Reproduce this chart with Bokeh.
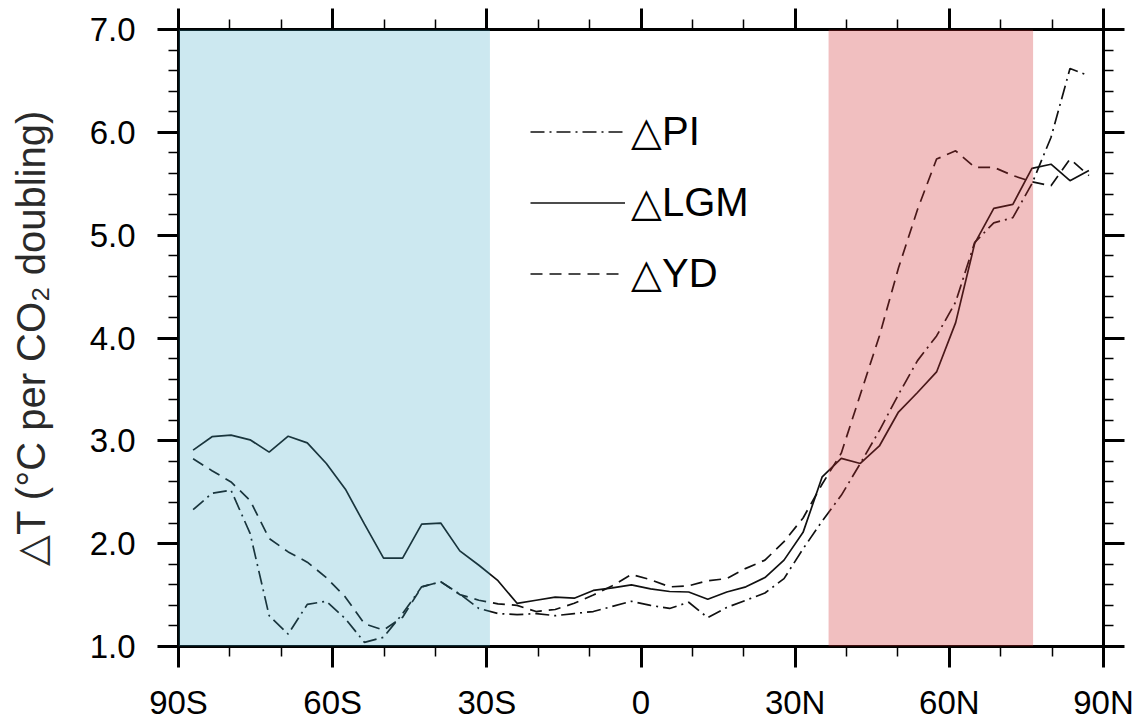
from bokeh.plotting import figure
from bokeh.models import (Range1d, LinearAxis, FixedTicker, BoxAnnotation, Legend,
                          LegendItem, NumeralTickFormatter)
from bokeh.embed import file_html
from bokeh.resources import INLINE

# ---- data ----
lat = [-87.16, -83.48, -79.78, -76.07, -72.36, -68.65, -64.94, -61.23, -57.52, -53.81,
       -50.10, -46.39, -42.68, -38.97, -35.26, -31.54, -27.83, -24.12, -20.41, -16.70,
       -12.99, -9.28, -5.57, -1.86, 1.86, 5.57, 9.28, 12.99, 16.70, 20.41,
       24.12, 27.83, 31.54, 35.26, 38.97, 42.68, 46.39, 50.10, 53.81, 57.52,
       61.23, 64.94, 68.65, 72.36, 76.07, 79.78, 83.48, 87.16]

dT_PI = [2.33, 2.49, 2.52, 2.10, 1.30, 1.12, 1.41, 1.44, 1.27, 1.04,
         1.09, 1.32, 1.58, 1.63, 1.51, 1.37, 1.32, 1.31, 1.32, 1.30,
         1.32, 1.34, 1.39, 1.44, 1.40, 1.37, 1.43, 1.28, 1.38, 1.45,
         1.52, 1.66, 1.95, 2.22, 2.47, 2.78, 3.10, 3.45, 3.78, 4.02,
         4.35, 4.93, 5.12, 5.17, 5.50, 5.95, 6.62, 6.55]

dT_LGM = [2.91, 3.04, 3.055, 3.01, 2.89, 3.045, 2.98, 2.78, 2.53, 2.19,
          1.86, 1.86, 2.19, 2.20, 1.93, 1.79, 1.64, 1.42, 1.45, 1.48,
          1.47, 1.545, 1.57, 1.60, 1.56, 1.535, 1.53, 1.46, 1.53, 1.58,
          1.67, 1.84, 2.11, 2.65, 2.83, 2.78, 2.95, 3.28, 3.47, 3.67,
          4.15, 4.92, 5.26, 5.30, 5.65, 5.69, 5.53, 5.63]

dT_YD = [2.825, 2.71, 2.60, 2.42, 2.05, 1.92, 1.82, 1.67, 1.48, 1.22,
         1.16, 1.285, 1.58, 1.63, 1.505, 1.45, 1.415, 1.40, 1.34, 1.36,
         1.42, 1.50, 1.59, 1.70, 1.65, 1.58, 1.59, 1.64, 1.66, 1.76,
         1.84, 2.02, 2.25, 2.58, 2.88, 3.45, 4.02, 4.68, 5.25, 5.74,
         5.82, 5.66, 5.66, 5.58, 5.52, 5.48, 5.74, 5.58]

series_labels = ["\u25b3PI", "\u25b3LGM", "\u25b3YD"]

x_ticks = [-90, -60, -30, 0, 30, 60, 90]
x_tick_labels = ["90S", "60S", "30S", "0", "30N", "60N", "90N"]
y_ticks = [1, 2, 3, 4, 5, 6, 7]

blue_band = (-90, -29.4)
red_band = (36.5, 76.3)

FONT = "Liberation Sans"

p = figure(width=1136, height=723, output_backend="svg", toolbar_location=None,
           x_range=Range1d(-90, 90), y_range=Range1d(1, 7),
           x_axis_location=None, y_axis_location=None,
           min_border_left=178, min_border_right=33, min_border_top=29,
           min_border_bottom=77)
p.outline_line_color = None
p.xgrid.visible = False
p.ygrid.visible = False
p.background_fill_color = "white"
p.border_fill_color = "white"

line_col = "#111111"
r_pi = p.line(lat, dT_PI, line_color=line_col, line_width=1.7, line_dash="14 5 2 5")
r_lgm = p.line(lat, dT_LGM, line_color=line_col, line_width=1.7)
r_yd = p.line(lat, dT_YD, line_color=line_col, line_width=1.7, line_dash="12 7")

# shaded bands drawn over the lines, semi-transparent
p.add_layout(BoxAnnotation(left=blue_band[0], right=blue_band[1], bottom=1, top=7,
                           fill_color=(51, 163, 195), fill_alpha=0.25, line_color=None,
                           level="overlay"))
p.add_layout(BoxAnnotation(left=red_band[0], right=red_band[1], bottom=1, top=7,
                           fill_color=(208, 42, 48), fill_alpha=0.3, line_color=None,
                           level="overlay"))

xt = FixedTicker(ticks=x_ticks, minor_ticks=list(range(-90, 91, 10)))
yt = FixedTicker(ticks=y_ticks, minor_ticks=[round(1 + 0.2 * i, 1) for i in range(31)])


def style(ax, show_labels):
    ax.axis_line_width = 3
    ax.axis_line_color = "black"
    ax.major_tick_line_width = 3
    ax.minor_tick_line_width = 1.5
    ax.major_tick_in = 0
    ax.minor_tick_in = 0
    ax.major_tick_out = 21
    ax.minor_tick_out = 10
    ax.major_label_text_font = FONT
    ax.major_label_text_font_size = "33px"
    ax.major_label_text_color = "black"
    if not show_labels:
        ax.major_label_text_font_size = "0px"
        ax.major_label_standoff = 0


xb = LinearAxis(ticker=xt, major_label_overrides=dict(zip(x_ticks, x_tick_labels)))
style(xb, True)
xb.major_label_standoff = 16
p.add_layout(xb, "below")

yl = LinearAxis(ticker=yt, formatter=NumeralTickFormatter(format="0.0"),
                axis_label="\u25b3T (\u00b0C per CO\u2082 doubling)")
style(yl, True)
yl.major_label_standoff = 22
yl.axis_label_text_font = FONT
yl.axis_label_text_font_size = "40px"
yl.axis_label_text_font_style = "normal"
yl.axis_label_text_color = "#2a2a2a"
yl.axis_label_standoff = 34
p.add_layout(yl, "left")

xa = LinearAxis(ticker=xt, major_label_overrides={t: "" for t in x_ticks})
style(xa, False)
p.add_layout(xa, "above")

yr = LinearAxis(ticker=yt, major_label_overrides={t: "" for t in y_ticks})
style(yr, False)
p.add_layout(yr, "right")

legend = Legend(items=[LegendItem(label=series_labels[0], renderers=[r_pi]),
                       LegendItem(label=series_labels[1], renderers=[r_lgm]),
                       LegendItem(label=series_labels[2], renderers=[r_yd])],
                location=(352, 350), orientation="vertical",
                glyph_width=95, glyph_height=45, label_standoff=6, spacing=25,
                padding=0, margin=0, border_line_color=None,
                background_fill_alpha=0,
                label_text_font=FONT, label_text_font_size="40px",
                label_text_color="black")
p.add_layout(legend, "center")

open("out.html", "w").write(file_html(p, INLINE))
